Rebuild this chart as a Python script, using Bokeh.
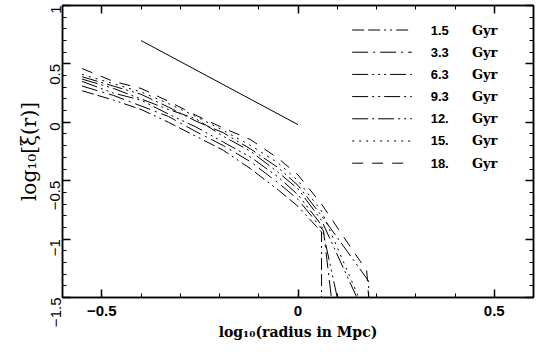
import math
from bokeh.plotting import figure
from bokeh.models import LinearAxis, SingleIntervalTicker, Range1d, CustomJSTickFormatter, Title
from bokeh.core.properties import value
from bokeh.embed import file_html
from bokeh.resources import INLINE

# ---- data ----
ages = ["1.5", "3.3", "6.3", "9.3", "12.", "15.", "18."]
dashes = ["12 4 12 4 2 4 2 4", "16 5 2 5", "16 4 2 4 2 4 2 4", "16 4 2 4 2 4",
          "16 4 2 4 16 4 2 4 2 4", "2 5", "11 9"]

x_15 = [-0.55, -0.47, -0.40, -0.33, -0.26, -0.19, -0.12, -0.05, 0.00, 0.06, 0.06]
y_15 = [0.27, 0.19, 0.11, 0.00, -0.12, -0.24, -0.40, -0.58, -0.72, -0.94, -1.50]
x_33 = [-0.55, -0.47, -0.40, -0.33, -0.26, -0.19, -0.12, -0.05, 0.00, 0.065, 0.085]
y_33 = [0.31, 0.23, 0.14, 0.05, -0.08, -0.20, -0.34, -0.52, -0.66, -0.93, -1.50]
x_63 = [-0.55, -0.47, -0.40, -0.33, -0.26, -0.19, -0.12, -0.05, 0.00, 0.06, 0.10]
y_63 = [0.35, 0.25, 0.19, 0.07, -0.04, -0.17, -0.30, -0.47, -0.62, -0.88, -1.50]
x_93 = [-0.55, -0.47, -0.40, -0.33, -0.26, -0.19, -0.12, -0.05, 0.00, 0.06, 0.15]
y_93 = [0.37, 0.29, 0.20, 0.11, 0.03, -0.12, -0.25, -0.43, -0.57, -0.84, -1.50]
x_12 = [-0.55, -0.47, -0.40, -0.33, -0.26, -0.19, -0.12, -0.05, 0.00, 0.06, 0.18, 0.18]
y_12 = [0.39, 0.31, 0.24, 0.13, 0.01, -0.09, -0.23, -0.39, -0.54, -0.80, -1.36, -1.50]
x_150 = [-0.55, -0.47, -0.40, -0.33, -0.26, -0.19, -0.12, -0.05, 0.00, 0.06, 0.155]
y_150 = [0.41, 0.33, 0.26, 0.16, 0.05, -0.07, -0.20, -0.35, -0.50, -0.76, -1.50]
x_18 = [-0.55, -0.47, -0.40, -0.33, -0.26, -0.19, -0.12, -0.05, 0.00, 0.06, 0.12, 0.175, 0.18]
y_18 = [0.46, 0.35, 0.29, 0.18, 0.06, -0.05, -0.15, -0.31, -0.45, -0.70, -1.00, -1.27, -1.50]

curves_x = [x_15, x_33, x_63, x_93, x_12, x_150, x_18]
curves_y = [y_15, y_33, y_63, y_93, y_12, y_150, y_18]

ref_x = [-0.4, 0.0]
ref_y = [0.70, -0.02]

x_ticks = {-0.5: "\u22120.5", 0.0: "0", 0.5: "0.5"}
y_ticks = {1.0: "1", 0.5: "0.5", 0.0: "0", -0.5: "\u22120.5", -1.0: "\u22121", -1.5: "\u22121.5"}
x_title = "log\u2081\u2080(radius in Mpc)"
y_title = "log\u2081\u2080[\u03be(r)]"

# ---- figure ----
p = figure(width=538, height=347, x_range=Range1d(-0.6, 0.6), y_range=Range1d(-1.5, 1.0),
           output_backend="svg", toolbar_location=None,
           min_border_left=62, min_border_right=5, min_border_top=5, min_border_bottom=50,
           x_axis_location=None, y_axis_location=None)
p.grid.visible = False
p.outline_line_color = "black"
p.outline_line_width = 1.5
p.background_fill_color = "white"
p.border_fill_color = "white"


def make_axis(labels, show):
    ax = LinearAxis(ticker=SingleIntervalTicker(interval=0.5, num_minor_ticks=5))
    ax.major_tick_in = 8
    ax.major_tick_out = 0
    ax.minor_tick_in = 4
    ax.minor_tick_out = 0
    ax.axis_line_width = 1.5
    ax.major_tick_line_width = 1.5
    ax.minor_tick_line_width = 1
    if show:
        ax.major_label_overrides = labels
        ax.major_label_text_font = "Liberation Sans"
        ax.major_label_text_font_style = "bold"
        ax.major_label_text_font_size = "15px"
        ax.major_label_text_color = "black"
    else:
        ax.formatter = CustomJSTickFormatter(code="return '';")
        ax.major_label_standoff = 0
    return ax


xb = make_axis(x_ticks, True)
xb.major_label_standoff = 8
xb.axis_label = x_title
xb.axis_label_text_font = "DejaVu Serif"
xb.axis_label_text_font_style = "bold"
xb.axis_label_text_font_size = "14px"
xb.axis_label_text_color = "black"
xb.axis_label_standoff = 5
p.add_layout(xb, "below")

yl = make_axis(y_ticks, True)
yl.major_label_orientation = math.pi / 2
yl.major_label_text_font_style = "normal"
yl.major_label_text_font_size = "15px"
yl.major_label_standoff = 7
p.add_layout(yl, "left")

p.add_layout(make_axis({}, False), "above")
p.add_layout(make_axis({}, False), "right")

# y title in the left panel, centred on the frame
p.add_layout(Title(text=y_title, align="center", text_font="DejaVu Serif",
                   text_font_style="normal", text_font_size="20px", text_color="black",
                   standoff=3, offset=-22), "left")

# reference power law
p.line(ref_x, ref_y, line_color="black", line_width=1)

# curves
for cx, cy, d in zip(curves_x, curves_y, dashes):
    p.line(cx, cy, line_color="black", line_width=1, line_dash=d)

# legend (drawn manually)
leg_x0, leg_x1 = 0.138, 0.29
num_x, gyr_x = 0.338, 0.443
row_top, row_step = 0.79, 0.19
for i, (age, d) in enumerate(zip(ages, dashes)):
    yy = row_top - i * row_step
    p.line([leg_x0, leg_x1], [yy, yy], line_color="black", line_width=1, line_dash=d)
    p.text([num_x], [yy], text=[age], text_font=value("Liberation Sans"),
           text_font_style="bold", text_font_size="13px", text_baseline="middle",
           text_align="left", text_color="black")
    p.text([gyr_x], [yy], text=["Gyr"], text_font=value("DejaVu Serif"),
           text_font_style="bold", text_font_size="13px", text_baseline="middle",
           text_align="left", text_color="black")

open("out.html", "w").write(file_html(p, INLINE))
